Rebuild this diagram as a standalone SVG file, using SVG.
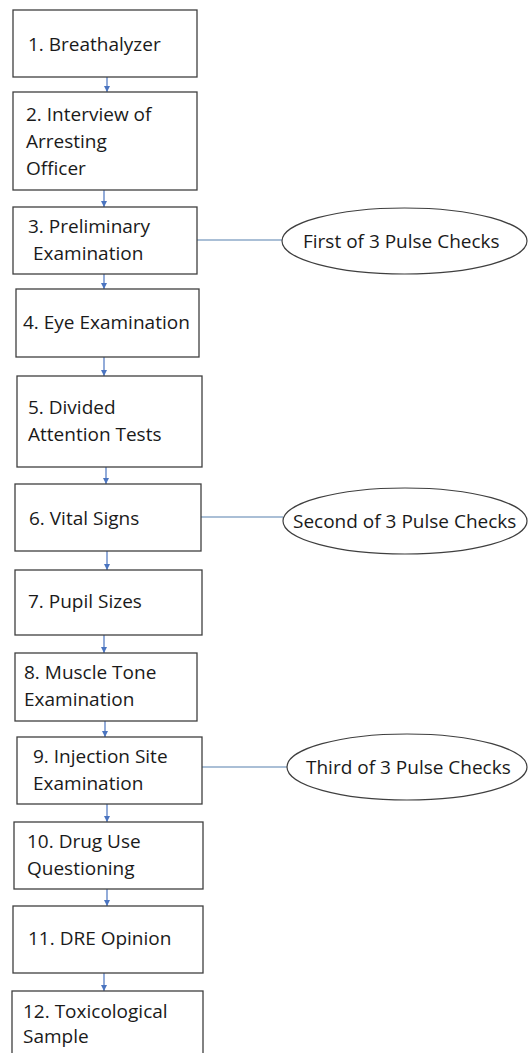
<svg xmlns="http://www.w3.org/2000/svg" width="528" height="1053" viewBox="0 0 528 1053">
<style>
.box{fill:#fff;stroke:#3f3f3f;stroke-width:1.3}
.ell{fill:#fff;stroke:#3f3f3f;stroke-width:1.2}
.t{font-family:"Open Sans","DejaVu Sans",sans-serif;font-size:19px;fill:#1a1a1a}
.arr{stroke:#4a74c0;stroke-width:1.2;fill:none;marker-end:url(#ah)}
.lnk{stroke:#8eaac9;stroke-width:1.3;fill:none}
</style>
<defs>
<marker id="ah" viewBox="0 0 10 10" refX="10" refY="5" markerWidth="6" markerHeight="6" markerUnits="userSpaceOnUse" orient="auto">
<path d="M0,0 L10,5 L0,10 z" fill="#4a74c0"/>
</marker>
</defs>
<rect width="528" height="1053" fill="#fff"/>
<g id="connectors">
<line class="arr" x1="107" y1="77" x2="107" y2="92"/>
<line class="arr" x1="104" y1="190" x2="104" y2="207"/>
<line class="arr" x1="104" y1="274" x2="104" y2="289"/>
<line class="arr" x1="104" y1="357" x2="104" y2="376"/>
<line class="arr" x1="106" y1="467" x2="106" y2="484"/>
<line class="arr" x1="107" y1="551" x2="107" y2="570"/>
<line class="arr" x1="104" y1="635" x2="104" y2="653"/>
<line class="arr" x1="105" y1="721" x2="105" y2="737"/>
<line class="arr" x1="107" y1="804" x2="107" y2="822"/>
<line class="arr" x1="107" y1="889" x2="107" y2="906"/>
<line class="arr" x1="104" y1="973" x2="104" y2="991"/>
<line class="lnk" x1="197" y1="240" x2="282" y2="240"/>
<line class="lnk" x1="201" y1="517" x2="283" y2="517"/>
<line class="lnk" x1="202" y1="767" x2="287" y2="767"/>
</g>
<g id="n1"><rect class="box" x="13" y="10" width="184" height="67"/><text class="t" x="28" y="51">1. Breathalyzer</text></g>
<g id="n2"><rect class="box" x="13" y="92" width="184" height="98"/><text class="t" x="26" y="121">2. Interview of</text><text class="t" x="26" y="148">Arresting</text><text class="t" x="26" y="175">Officer</text></g>
<g id="n3"><rect class="box" x="13" y="207" width="184" height="67"/><text class="t" x="28" y="233">3. Preliminary</text><text class="t" x="33" y="260">Examination</text></g>
<g id="n4"><rect class="box" x="16" y="289" width="183" height="68"/><text class="t" x="23" y="329">4. Eye Examination</text></g>
<g id="n5"><rect class="box" x="17" y="376" width="185" height="91"/><text class="t" x="28" y="414">5. Divided</text><text class="t" x="28" y="441">Attention Tests</text></g>
<g id="n6"><rect class="box" x="15" y="484" width="186" height="67"/><text class="t" x="29" y="525">6. Vital Signs</text></g>
<g id="n7"><rect class="box" x="15" y="570" width="187" height="65"/><text class="t" x="28" y="608">7. Pupil Sizes</text></g>
<g id="n8"><rect class="box" x="15" y="653" width="182" height="68"/><text class="t" x="24" y="679">8. Muscle Tone</text><text class="t" x="24" y="706">Examination</text></g>
<g id="n9"><rect class="box" x="17" y="737" width="185" height="67"/><text class="t" x="33" y="763">9. Injection Site</text><text class="t" x="33" y="790">Examination</text></g>
<g id="n10"><rect class="box" x="14" y="822" width="189" height="67"/><text class="t" x="27" y="848">10. Drug Use</text><text class="t" x="27" y="875">Questioning</text></g>
<g id="n11"><rect class="box" x="13" y="906" width="190" height="67"/><text class="t" x="28" y="945">11. DRE Opinion</text></g>
<g id="n12"><rect class="box" x="12" y="991" width="191" height="80"/><text class="t" x="23" y="1018">12. Toxicological</text><text class="t" x="23" y="1043">Sample</text></g>
<g id="p1"><ellipse class="ell" cx="404.5" cy="241" rx="122.5" ry="33"/><text class="t" x="303" y="248">First of 3 Pulse Checks</text></g>
<g id="p2"><ellipse class="ell" cx="405" cy="521" rx="122" ry="33"/><text class="t" x="293" y="528">Second of 3 Pulse Checks</text></g>
<g id="p3"><ellipse class="ell" cx="407" cy="767" rx="120" ry="33"/><text class="t" x="306" y="774">Third of 3 Pulse Checks</text></g>
</svg>
